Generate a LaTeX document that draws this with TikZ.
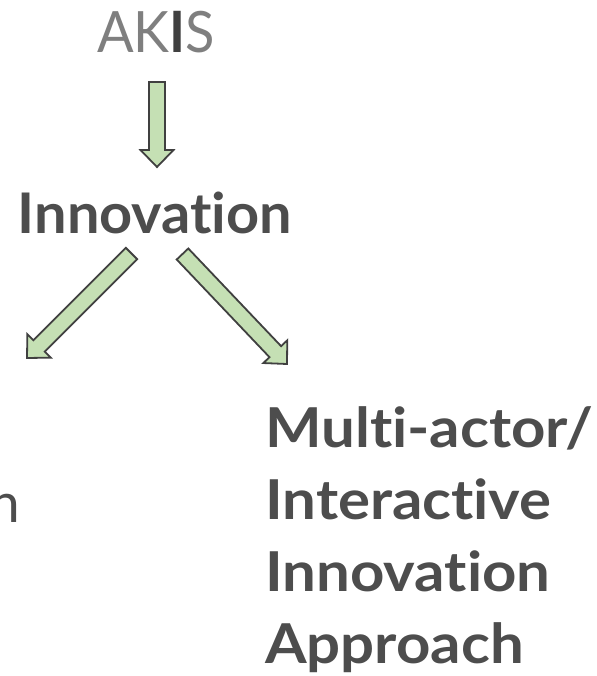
\documentclass[tikz,border=0pt]{standalone}
\usepackage{fontspec}
\setmainfont{Lato}[Ligatures={NoCommon}]
\usetikzlibrary{calc}
\definecolor{textgrey}{HTML}{4D4D4D}
\definecolor{lightgrey}{HTML}{7F7F7F}
\definecolor{darkgrey}{HTML}{404040}
\definecolor{arrowgreen}{HTML}{C5E0B4}

\begin{document}
\begin{tikzpicture}[x=1pt,y=-1pt,inner sep=0pt,
    blockarrow/.style={draw=darkgrey,fill=arrowgreen,line width=1.8pt,line join=miter,
      to path={($(\tikztostart)!8pt!90:(\tikztotarget)$)
        -- ($(\tikztotarget)!17pt!(\tikztostart)!8pt!-90:(\tikztostart)$)
        -- ($(\tikztotarget)!17pt!(\tikztostart)!16.5pt!-90:(\tikztostart)$)
        -- (\tikztotarget)
        -- ($(\tikztotarget)!17pt!(\tikztostart)!16.5pt!90:(\tikztostart)$)
        -- ($(\tikztotarget)!17pt!(\tikztostart)!8pt!90:(\tikztostart)$)
        -- ($(\tikztostart)!8pt!-90:(\tikztotarget)$) -- cycle}}]
  \tikzstyle{title}=[text=textgrey,font=\bfseries\fontsize{56}{56}\selectfont,transform shape]
  \useasboundingbox (0,0) rectangle (596,676);

  \node[text=lightgrey,font=\fontsize{57}{57}\selectfont,anchor=base,transform shape,xscale=0.95]
    (akis) at (156,53) {AK{\color{darkgrey}\bfseries I}S};
  \node[title,anchor=base,xscale=1.03] (innov) at (155,233) {Innovation};
  \node[title,font=\bfseries\fontsize{55}{72}\selectfont,align=left,anchor=base west,xscale=1.09]
    (multi) at (265,663) {Multi-actor/\\Interactive\\Innovation\\Approach};
  \node[text=textgrey,font=\fontsize{55}{72}\selectfont,anchor=base east] (linear) at (20,522) {n};

  \coordinate (akis-s) at (157,82);
  \coordinate (innov-n) at (157,167);
  \coordinate (innov-sw) at (131.5,253.5);
  \coordinate (linear-n) at (27,358);
  \coordinate (innov-se) at (182.5,254);
  \coordinate (multi-n) at (287,364);

  \draw[blockarrow] (akis-s) to (innov-n);
  \draw[blockarrow] (innov-sw) to (linear-n);
  \draw[blockarrow] (innov-se) to (multi-n);
\end{tikzpicture}
\end{document}
